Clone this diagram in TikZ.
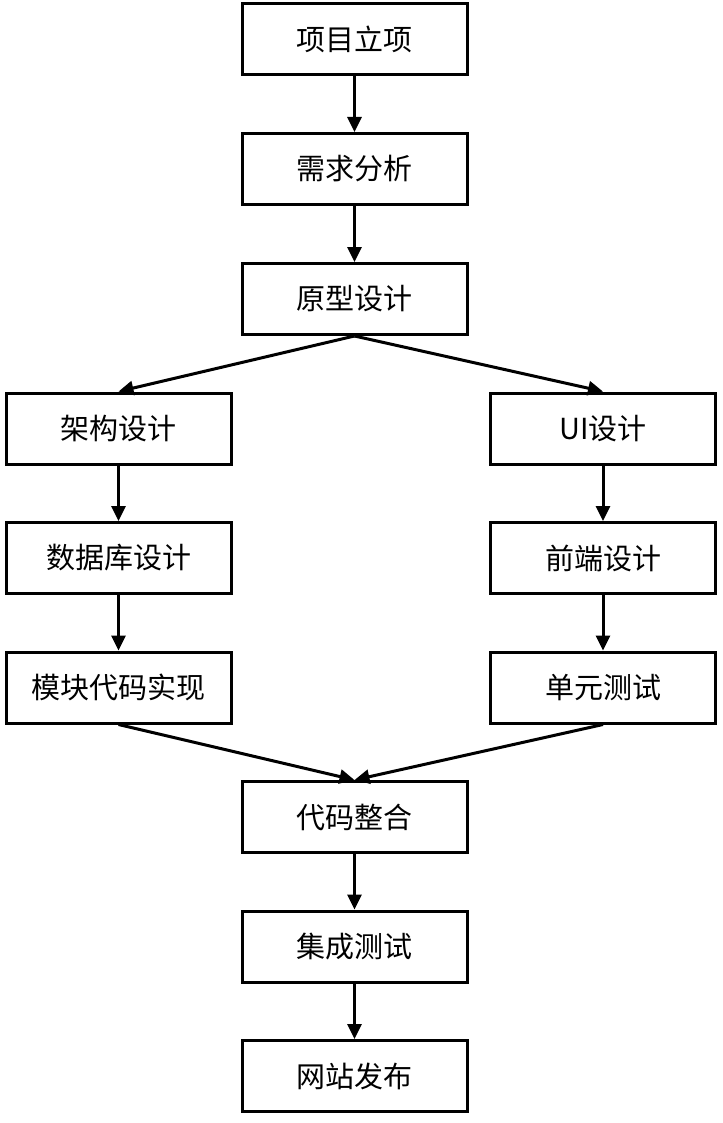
\documentclass[tikz,border=0pt]{standalone}
\usepackage{fontspec}
\setmainfont{Noto Sans CJK SC}
\usetikzlibrary{arrows.meta}
\begin{document}
\begin{tikzpicture}[x=1pt,y=-1pt,
  box/.style={draw=black,line width=3pt,fill=white,minimum width=225pt,minimum height=71pt,inner sep=0pt,font=\fontsize{29pt}{34pt}\selectfont},
  arr/.style={line width=3pt,-{Triangle[length=15pt,width=14pt]}}]
\useasboundingbox (0,0) rectangle (722,1123);
\node[box] (a) at (354.5,39.5) {项目立项};
\node[box] (b) at (354.5,169) {需求分析};
\node[box] (c) at (354.5,299) {原型设计};
\node[box] (l1) at (118.5,428.5) {架构设计};
\node[box] (l2) at (118.5,558) {数据库设计};
\node[box] (l3) at (118.5,687.5) {模块代码实现};
\node[box] (r1) at (603,428.5) {UI设计};
\node[box] (r2) at (603,558) {前端设计};
\node[box] (r3) at (603,687.5) {单元测试};
\node[box] (d) at (354.5,817) {代码整合};
\node[box] (e) at (354.5,946.5) {集成测试};
\node[box] (f) at (354.5,1076) {网站发布};
\draw[arr] (a.south) -- (b.north);
\draw[arr] (b.south) -- (c.north);
\draw[arr] (c.south) -- (l1.north);
\draw[arr] (c.south) -- (r1.north);
\draw[arr] (l1.south) -- (l2.north);
\draw[arr] (l2.south) -- (l3.north);
\draw[arr] (r1.south) -- (r2.north);
\draw[arr] (r2.south) -- (r3.north);
\draw[arr] (l3.south) -- (d.north);
\draw[arr] (r3.south) -- (d.north);
\draw[arr] (d.south) -- (e.north);
\draw[arr] (e.south) -- (f.north);
\end{tikzpicture}
\end{document}
